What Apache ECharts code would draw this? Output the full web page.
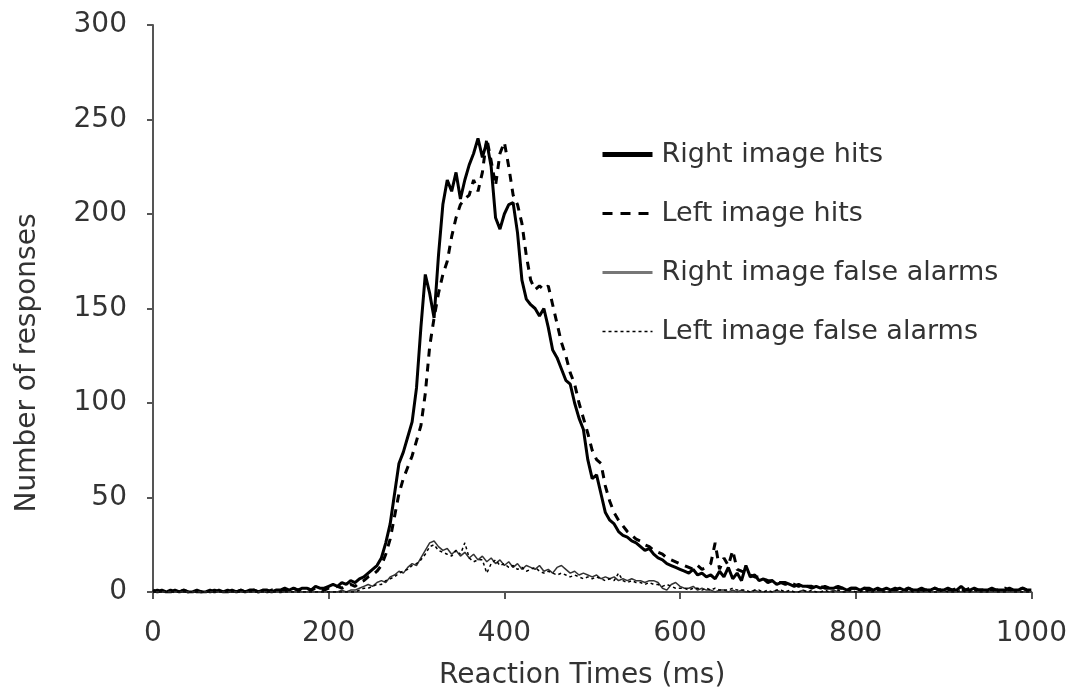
<!DOCTYPE html>
<html>
<head>
<meta charset="utf-8">
<script src="https://cdn.jsdelivr.net/npm/echarts@6/dist/echarts.min.js"></script>
<style>
html,body{margin:0;padding:0;background:#fff;}
#chart{width:1070px;height:696px;}
</style>
</head>
<body>
<div id="chart"></div>
<script>
// Reaction time bins (ms)
const times = [
0,5,10,15,20,25,30,35,40,45,50,55,60,65,70,75,80,85,90,95,
100,105,110,115,120,125,130,135,140,145,150,155,160,165,170,175,180,185,190,195,
200,205,210,215,220,225,230,235,240,245,250,255,260,265,270,275,280,285,290,295,
300,305,310,315,320,325,330,335,340,345,350,355,360,365,370,375,380,385,390,395,
400,405,410,415,420,425,430,435,440,445,450,455,460,465,470,475,480,485,490,495,
500,505,510,515,520,525,530,535,540,545,550,555,560,565,570,575,580,585,590,595,
600,605,610,615,620,625,630,635,640,645,650,655,660,665,670,675,680,685,690,695,
700,705,710,715,720,725,730,735,740,745,750,755,760,765,770,775,780,785,790,795,
800,805,810,815,820,825,830,835,840,845,850,855,860,865,870,875,880,885,890,895,
900,905,910,915,920,925,930,935,940,945,950,955,960,965,970,975,980,985,990,995,
1000];

const rightHits = [
1,0,1,0,0,1,0,1,0,0, 1,0,0,1,0,1,0,0,1,0,
1,0,1,1,0,1,1,0,1,1, 2,1,2,1,2,2,1,3,2,2,
3,4,3,5,4,6,5,7,8,10, 12,14,18,26,36,52,68,74,82,90,
108,140,168,158,145,178,205,218,212,222, 208,218,226,232,240,230,238,225,198,192,
200,205,206,190,165,155,152,150,146,150, 140,128,124,118,112,110,100,92,86,70,
60,62,52,42,38,36,32,30,29,27, 26,24,22,23,20,18,17,15,14,13,
12,11,10,12,9,10,8,9,7,11, 8,13,7,10,6,14,8,9,6,7,
5,6,4,5,5,4,3,4,3,3, 2,3,2,3,2,2,3,2,1,2,
2,1,2,2,1,2,1,2,1,1, 2,1,2,1,1,2,1,1,2,1,
1,2,1,1,3,1,1,2,1,1, 1,2,1,1,1,2,1,1,2,1,
1];

const leftHits = [
0,1,0,0,1,0,0,1,0,1, 0,0,1,0,1,0,0,1,0,0,
1,0,0,1,0,1,0,1,1,0, 1,1,2,1,1,2,1,2,2,1,
2,2,3,2,3,4,3,5,6,8, 9,11,14,20,28,40,52,60,66,72,
80,88,105,130,145,158,168,175,188,198, 205,208,210,218,212,222,240,228,215,232,
238,225,210,205,195,178,165,160,162,160, 162,152,142,132,125,116,110,100,92,84,
75,70,68,56,48,42,38,35,32,30, 28,27,25,24,22,21,20,18,17,16,
15,14,13,12,14,12,13,15,26,12, 18,14,22,12,11,10,9,8,8,7,
6,6,5,5,4,5,4,3,4,3, 3,2,3,2,2,3,2,2,1,2,
2,1,2,1,2,1,1,2,1,2, 1,1,2,1,2,1,1,1,2,1,
2,1,1,2,1,1,2,1,1,1, 2,1,1,1,2,1,1,1,2,1,
1];

const rightFalseAlarms = [
0,0,0,0,0,0,0,0,0,0, 0,0,0,0,0,0,0,0,0,0,
0,0,0,0,0,0,0,0,0,0, 0,0,0,0,0,0,0,0,0,0,
0,0,0,1,0,1,1,2,3,4, 3,5,6,5,8,9,11,10,13,15,
14,18,22,26,27,24,22,23,20,22, 19,21,18,20,17,19,16,18,15,17,
14,16,13,15,12,14,13,12,14,11, 12,10,13,14,12,10,11,9,10,9,
8,9,7,8,7,8,6,7,6,7, 6,6,5,6,6,5,2,1,4,5,
3,2,2,3,1,2,1,1,0,1, 1,0,1,0,1,0,0,1,0,0,
0,0,1,0,0,0,0,0,1,0, 0,0,0,0,0,1,0,0,0,0,
0,0,0,0,0,0,0,0,0,0, 0,0,0,0,0,0,0,0,0,0,
0,0,0,0,0,0,0,0,0,0, 0,0,0,0,0,0,0,0,0,0,
0];

const leftFalseAlarms = [
0,0,0,0,0,0,0,0,0,0, 0,0,0,0,0,0,0,0,0,0,
0,0,0,0,0,0,0,0,0,0, 0,0,0,0,0,0,0,0,0,0,
0,0,0,0,0,0,0,1,2,2, 3,4,4,6,7,8,10,11,12,14,
15,17,20,24,25,22,21,20,19,22, 20,26,18,16,17,17,10,15,17,14,
15,13,14,12,13,11,12,13,11,10, 11,10,9,10,9,8,9,8,7,8,
7,8,7,6,7,6,10,6,5,6, 5,5,4,5,4,4,3,4,3,2,
2,2,1,2,2,1,2,1,2,1, 1,1,2,1,1,1,0,1,1,0,
1,0,1,1,0,1,0,0,1,0, 1,0,0,1,0,0,1,0,0,1,
0,0,1,0,0,1,0,0,0,1, 0,0,1,0,0,0,1,0,0,0,
1,0,0,0,1,0,0,1,0,0, 0,1,0,0,0,1,0,0,0,0,
0];

const xTicks = [0, 200, 400, 600, 800, 1000];
const yTicks = [0, 50, 100, 150, 200, 250, 300];

const seriesNames = ['Right image hits', 'Left image hits', 'Right image false alarms', 'Left image false alarms'];

function pairs(ys) { return times.map((t, i) => [t, ys[i]]); }

const FONT = 'DejaVu Sans';
const chart = echarts.init(document.getElementById('chart'), null, {renderer: 'canvas'});
chart.setOption({
  animation: false,
  backgroundColor: '#ffffff',
  grid: {left: 153, right: 36, top: 25, bottom: 104},
  legend: {
    orient: 'vertical',
    left: 595,
    top: 136,
    itemWidth: 50,
    itemHeight: 14,
    itemGap: 32,
    itemStyle: {opacity: 0},
    textStyle: {fontFamily: FONT, fontSize: 27, color: '#333', padding: [0, 0, 0, 4]},
    data: [
      {name: seriesNames[0], lineStyle: {width: 5, color: '#000'}},
      {name: seriesNames[1], lineStyle: {width: 3, color: '#000', type: [10, 8]}},
      {name: seriesNames[2], lineStyle: {width: 3, color: '#777'}},
      {name: seriesNames[3], lineStyle: {width: 1.5, color: '#000', type: [3, 3]}}
    ]
  },
  xAxis: {
    type: 'value',
    min: xTicks[0], max: xTicks[xTicks.length - 1], interval: 200,
    name: 'Reaction Times (ms)',
    nameLocation: 'middle',
    nameGap: 70,
    nameTextStyle: {fontFamily: FONT, fontSize: 28, color: '#333', padding: [0, 20, 0, 0]},
    axisLine: {show: true, lineStyle: {color: '#555', width: 2}},
    axisTick: {show: true, inside: false, length: 7, lineStyle: {color: '#555', width: 2}},
    axisLabel: {fontFamily: FONT, fontSize: 28, color: '#333', margin: 28, formatter: v => String(v)},
    splitLine: {show: false}
  },
  yAxis: {
    type: 'value',
    min: yTicks[0], max: yTicks[yTicks.length - 1], interval: 50,
    axisLine: {show: true, lineStyle: {color: '#555', width: 2}},
    axisTick: {show: true, inside: false, length: 6, lineStyle: {color: '#555', width: 2}},
    axisLabel: {fontFamily: FONT, fontSize: 28, color: '#333', margin: 26, formatter: v => String(v)},
    splitLine: {show: false}
  },
  graphic: [{
    type: 'text',
    x: 28, y: 363,
    rotation: Math.PI / 2,
    style: {
      text: 'Number of responses',
      font: '28px "' + FONT + '"',
      fill: '#333',
      align: 'center',
      verticalAlign: 'middle'
    }
  }],
  series: [
    {
      name: seriesNames[0], type: 'line', data: pairs(rightHits), symbol: 'none',
      lineStyle: {color: '#000', width: 3}, itemStyle: {color: '#000'}, z: 3
    },
    {
      name: seriesNames[1], type: 'line', data: pairs(leftHits), symbol: 'none',
      lineStyle: {color: '#000', width: 3, type: [8, 7]}, itemStyle: {color: '#000'}, z: 2
    },
    {
      name: seriesNames[2], type: 'line', data: pairs(rightFalseAlarms), symbol: 'none',
      lineStyle: {color: '#333', width: 1.5}, itemStyle: {color: '#777'}, z: 4
    },
    {
      name: seriesNames[3], type: 'line', data: pairs(leftFalseAlarms), symbol: 'none',
      lineStyle: {color: '#000', width: 1.5, type: [3, 3]}, itemStyle: {color: '#000'}, z: 4
    }
  ]
});
</script>
</body>
</html>
